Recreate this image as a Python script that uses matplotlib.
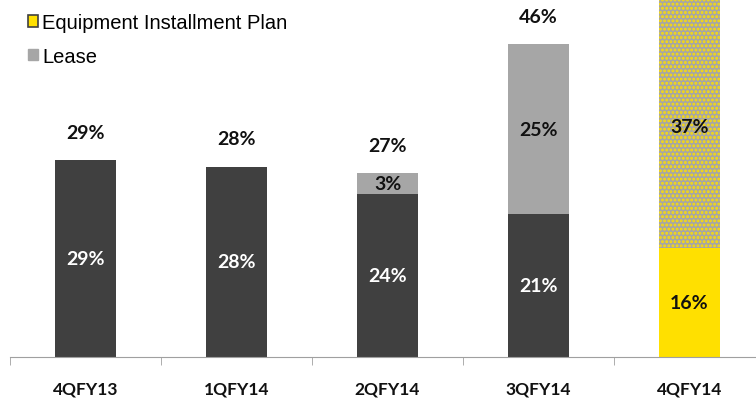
import matplotlib
matplotlib.use("Agg")
import matplotlib.pyplot as plt
import matplotlib.patches as mpatches
import numpy as np

# --- data ---
quarters = ["4QFY13", "1QFY14", "2QFY14", "3QFY14", "4QFY14"]
base = [29, 28, 24, 21, 16]
lease = [0, 0, 3, 25, 0]
eip = [0, 0, 0, 0, 37]
totals = [29, 28, 27, 46, 53]

dark = "#404040"
grey = "#A6A6A6"
yellow = "#FFE000"

fig = plt.figure(figsize=(7.56, 4.02), dpi=100)
# axes runs past the right and top edges, like the cropped original
ax = fig.add_axes([10 / 756, 44 / 402, 755 / 756, 408 / 402])

x = np.arange(len(quarters))
w = 0.4
base_colors = [dark] * 4 + [yellow]
ax.bar(x, base, w, color=base_colors, linewidth=0)
ax.bar(x, lease, w, bottom=base, color=grey, linewidth=0)
plt.rcParams['hatch.linewidth'] = 1.4
ax.bar(x, eip, w, bottom=base, color=grey, edgecolor=yellow, hatch="....", linewidth=0)

lab_font = dict(family="Lato", fontweight="bold", fontsize=14)
for i in range(len(quarters)):
    txt_col = "white" if base_colors[i] == dark else "#111111"
    ax.text(x[i], base[i] / 2, f"{base[i]}%", ha="center", va="center", color=txt_col, **lab_font)
    if lease[i]:
        ax.text(x[i], base[i] + lease[i] / 2, f"{lease[i]}%", ha="center", va="center", color="#111111", **lab_font)
    if eip[i]:
        ax.text(x[i], base[i] + eip[i] / 2 - 0.6, f"{eip[i]}%", ha="center", va="center", color="#111111", **lab_font)
    # the last total sits above the cropped top edge in the original, so it is not shown
    if totals[i] < 50:
        ax.annotate(f"{totals[i]}%", (x[i], totals[i]), xytext=(0, 20), textcoords="offset points",
                    ha="center", va="center", color="#111111", **lab_font)

ax.set_xlim(-0.5, len(quarters) - 0.5)
ax.set_ylim(0, 60)
ax.set_yticks([])
for s in ["top", "right", "left"]:
    ax.spines[s].set_visible(False)
ax.spines["bottom"].set_color("#A0A0A0")
ax.set_xticks(x)
ax.set_xticklabels(quarters, family="Lato", fontweight="bold", fontsize=12.5, color="#111111")
ax.tick_params(axis="x", which="major", length=0, pad=17)
ax.set_xticks(np.arange(-0.5, len(quarters)), minor=True)
ax.tick_params(axis="x", which="minor", length=6, color="#A0A0A0")

h1 = mpatches.Patch(facecolor=yellow, edgecolor=dark, linewidth=1.2, label="Equipment Installment Plan")
h2 = mpatches.Patch(facecolor=grey, edgecolor=grey, label="Lease")
fig.legend(handles=[h1, h2], loc="upper left", bbox_to_anchor=(0.018, 1.0), frameon=False,
           prop={"family": "Liberation Sans", "size": 14.5}, handlelength=0.5, handleheight=0.5,
           handletextpad=0.22, labelspacing=0.72, borderpad=0.2)

fig.savefig("out.png", dpi=100)
